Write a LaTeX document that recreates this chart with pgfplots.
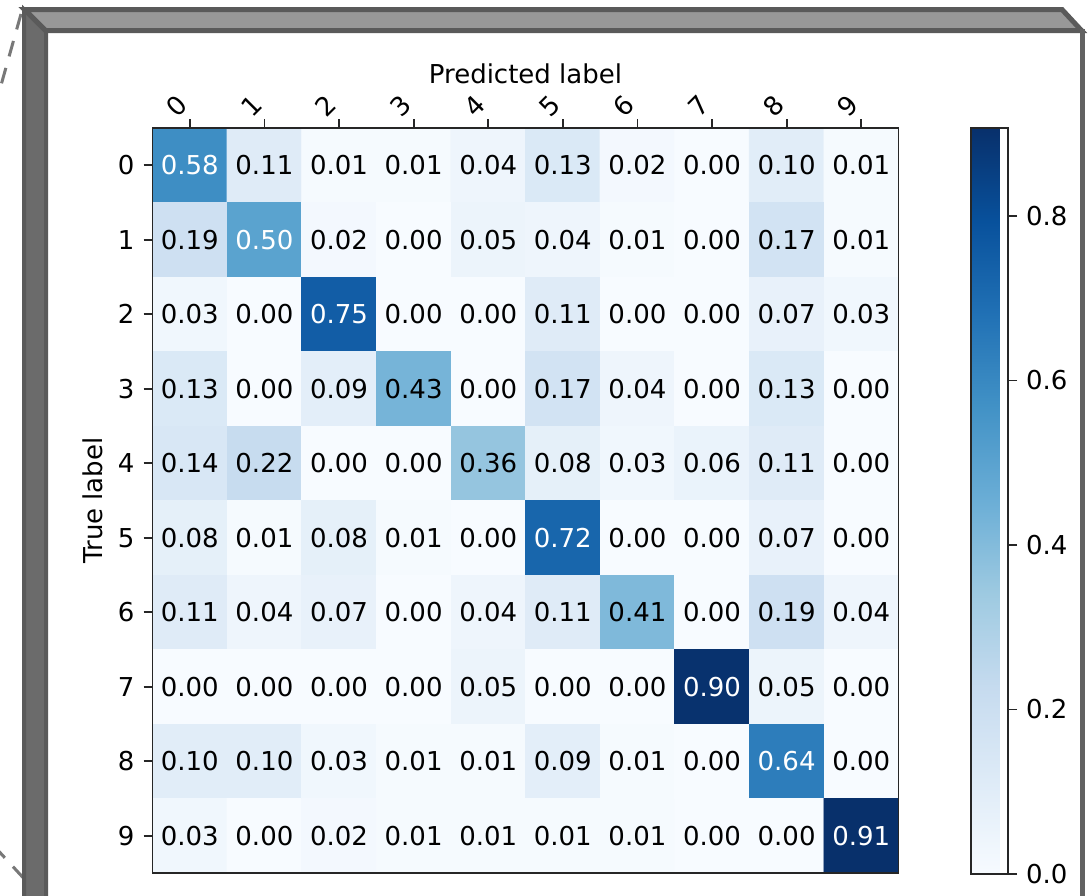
\documentclass[border=0pt]{standalone}
\usepackage{fontspec}
\setmainfont{DejaVu Sans}
\usepackage{pgfplots}
\pgfplotsset{compat=1.18}
\usepackage{pgfplotstable}
\pgfkeys{/pgf/number format/assume math mode=true}
\definecolor{topface}{HTML}{989898}
\definecolor{edgec}{HTML}{5A5A5A}
\definecolor{leftface}{HTML}{6B6B6B}
\definecolor{dashc}{HTML}{787878}
\definecolor{axc}{HTML}{262626}

\pgfplotstableread{
x y c
0 0 0.58
1 0 0.11
2 0 0.01
3 0 0.01
4 0 0.04
5 0 0.13
6 0 0.02
7 0 0.00
8 0 0.10
9 0 0.01
0 1 0.19
1 1 0.50
2 1 0.02
3 1 0.00
4 1 0.05
5 1 0.04
6 1 0.01
7 1 0.00
8 1 0.17
9 1 0.01
0 2 0.03
1 2 0.00
2 2 0.75
3 2 0.00
4 2 0.00
5 2 0.11
6 2 0.00
7 2 0.00
8 2 0.07
9 2 0.03
0 3 0.13
1 3 0.00
2 3 0.09
3 3 0.43
4 3 0.00
5 3 0.17
6 3 0.04
7 3 0.00
8 3 0.13
9 3 0.00
0 4 0.14
1 4 0.22
2 4 0.00
3 4 0.00
4 4 0.36
5 4 0.08
6 4 0.03
7 4 0.06
8 4 0.11
9 4 0.00
0 5 0.08
1 5 0.01
2 5 0.08
3 5 0.01
4 5 0.00
5 5 0.72
6 5 0.00
7 5 0.00
8 5 0.07
9 5 0.00
0 6 0.11
1 6 0.04
2 6 0.07
3 6 0.00
4 6 0.04
5 6 0.11
6 6 0.41
7 6 0.00
8 6 0.19
9 6 0.04
0 7 0.00
1 7 0.00
2 7 0.00
3 7 0.00
4 7 0.05
5 7 0.00
6 7 0.00
7 7 0.90
8 7 0.05
9 7 0.00
0 8 0.10
1 8 0.10
2 8 0.03
3 8 0.01
4 8 0.01
5 8 0.09
6 8 0.01
7 8 0.00
8 8 0.64
9 8 0.00
0 9 0.03
1 9 0.00
2 9 0.02
3 9 0.01
4 9 0.01
5 9 0.01
6 9 0.01
7 9 0.00
8 9 0.00
9 9 0.91
}\cm

\begin{document}
\fontsize{13}{15.6}\selectfont
\begin{tikzpicture}
\begin{scope}[x=0.5pt,y=-0.5pt]
\path[use as bounding box, fill=white] (0,0) rectangle (1091,895);
% dashed perspective lines
\draw[dashc, line width=1.5pt, dash pattern=on 8pt off 6pt] (21,14) -- (-2,96);
\draw[dashc, line width=1.5pt, dash pattern=on 8pt off 6pt] (-6,846) -- (40,896);
% left face
\filldraw[fill=leftface, draw=edgec, line width=2pt, line join=miter] (24,9.5) -- (46,31) -- (46,910) -- (24,910) -- cycle;
% top face
\filldraw[fill=topface, draw=edgec, line width=2.5pt, line join=miter] (24.5,9.5) -- (1062,9.5) -- (1081.5,30.5) -- (45.5,30.5) -- cycle;
% right edge
\draw[edgec!95, line width=2.5pt] (1082.5,29) -- (1082.5,910);
\end{scope}
\begin{axis}[
  at={(76.25pt,-436.5pt)}, anchor=south west,
  scale only axis, width=373pt, height=372.5pt,
  xmin=-0.5, xmax=9.5, ymin=-0.5, ymax=9.5,
  y dir=reverse,
  enlargelimits=false,
  axis on top,
  xtick={0,...,9}, ytick={0,...,9},
  xtick pos=right, xticklabel pos=right,
  ytick pos=left,
  tick align=outside,
  major tick length=4.5pt,
  tick style={color=axc, line width=0.9pt},
  axis line style={color=axc, line width=0.9pt},
  xticklabel style={rotate=45, anchor=south},
  colormap={blues}{rgb255=(247,251,255) rgb255=(222,235,247) rgb255=(198,219,239) rgb255=(158,202,225) rgb255=(107,174,214) rgb255=(66,146,198) rgb255=(33,113,181) rgb255=(8,81,156) rgb255=(8,48,107)},
  point meta min=0, point meta max=0.907,
  colorbar,
  colorbar style={
    at={(parent axis.north east)}, anchor=north west, xshift=27.75pt,
    scale only axis, width=18.5pt, height=373pt,
    ytick={0,0.2,0.4,0.6,0.8},
    ytick pos=right, yticklabel pos=right,
    tick align=outside, major tick length=4.5pt,
    tick style={color=axc, line width=0.9pt},
    axis line style={color=axc, line width=0.9pt},
    yticklabel style={/pgf/number format/fixed, /pgf/number format/fixed zerofill, /pgf/number format/precision=1},
  },
  xlabel={Predicted label}, ylabel={True label},
  xlabel style={at={(axis description cs:0.5,1.0604)}, anchor=base},
  ylabel style={at={(axis description cs:-0.0664,0.5)}, anchor=base},
]
\addplot[matrix plot*, mesh/cols=10, point meta=\thisrow{c}] table[x=x, y=y] {\cm};
\addplot[only marks, mark=none, point meta=\thisrow{c},
  restrict expr to domain={\thisrow{c}}{-1:0.455},
  nodes near coords={\pgfmathprintnumber[fixed,fixed zerofill,precision=2]{\pgfplotspointmeta}},
  nodes near coords style={anchor=center, text=black}] table[x=x, y=y] {\cm};
\addplot[only marks, mark=none, point meta=\thisrow{c},
  restrict expr to domain={\thisrow{c}}{0.455:1},
  nodes near coords={\pgfmathprintnumber[fixed,fixed zerofill,precision=2]{\pgfplotspointmeta}},
  nodes near coords style={anchor=center, text=white}] table[x=x, y=y] {\cm};
\end{axis}
\end{tikzpicture}
\end{document}
